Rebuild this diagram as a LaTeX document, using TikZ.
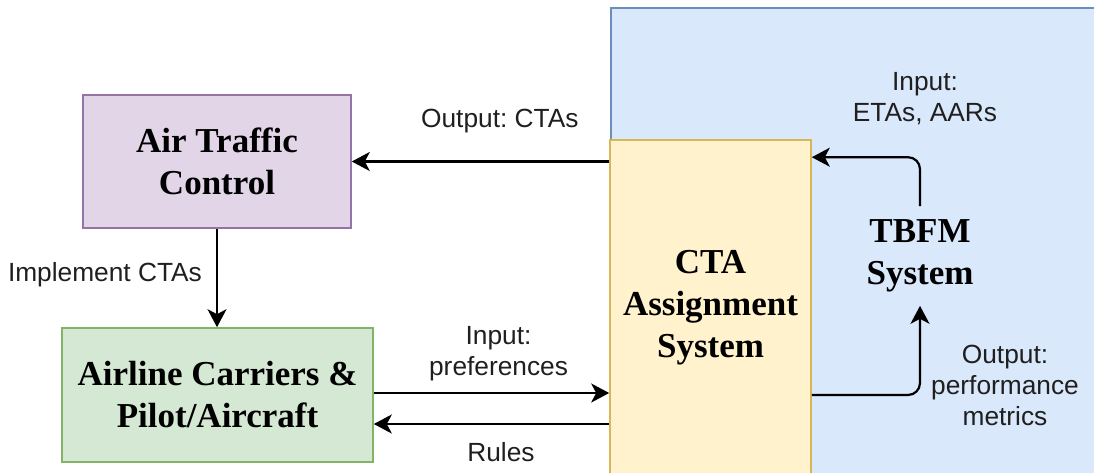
\documentclass[tikz,border=0pt]{standalone}
\usepackage{fontspec}
\setmainfont{Liberation Serif}
\setsansfont{Liberation Sans}
\usetikzlibrary{arrows.meta, positioning}

\definecolor{tbfmfill}{HTML}{DAE8FC}
\definecolor{tbfmline}{HTML}{6C8EBF}
\definecolor{ctafill}{HTML}{FFF2CC}
\definecolor{ctaline}{HTML}{D6B656}
\definecolor{atcfill}{HTML}{E1D5E7}
\definecolor{atcline}{HTML}{9673A6}
\definecolor{airfill}{HTML}{D5E8D4}
\definecolor{airline}{HTML}{82B366}

\tikzset{
  box/.style={draw, line width=1.6pt, inner sep=0pt, align=center,
    font=\fontsize{35}{42}\selectfont\bfseries},
  lbl/.style={inner sep=0pt, align=center, text=black!88,
    font=\sffamily\fontsize{26.3}{31}\selectfont\frenchspacing},
  conn/.style={line width=2.2pt, -{Stealth[length=18pt,width=19pt,inset=5pt]}}
}

\begin{document}
\begin{tikzpicture}[x=1pt,y=-1pt]
\useasboundingbox (0,0) rectangle (1094,472);
\clip (0,0) rectangle (1094,472);
% TBFM area in the background
\node[draw=tbfmline, fill=tbfmfill, line width=1.6pt, anchor=north west,
  minimum width=500pt, minimum height=480pt] (tbfmarea) at (610,7) {};
% Boxes
\node[box, fill=ctafill, draw=ctaline, minimum width=201pt, minimum height=336pt]
  (cta) at (710.5,308) {CTA\\Assignment\\System};
\node[box, fill=atcfill, draw=atcline, minimum width=268pt, minimum height=133pt]
  (atc) at (217,161.5) {Air Traffic\\Control};
\node[box, fill=airfill, draw=airline, minimum width=311pt, minimum height=134pt]
  (air) at (217.5,395) {Airline Carriers \&\\Pilot/Aircraft};
\node[box, draw=none, minimum height=90pt] (tbfm) at (920,256) {TBFM\\System};

% Connector end points
\coordinate (pref) at ([yshift=2pt]air.east);
\coordinate (rule) at ([yshift=-29pt]air.east);
\coordinate (ctain) at ([yshift=-18pt]cta.north east);
\coordinate (ctaout) at ([yshift=-87pt]cta.east);

% CTA system to the others
\draw[conn] (cta.west |- atc.east) -- node[lbl, pos=0.425, yshift=40pt] {Output: CTAs} (atc.east);
\draw[conn] (atc.south) -- node[lbl, left=14pt, pos=0.47] {Implement CTAs} (atc.south |- air.north);
\draw[conn] (pref) -- node[lbl, pos=0.53, yshift=39pt] {Input:\\preferences} (pref -| cta.west);
\draw[conn] (rule -| cta.west) -- node[lbl, pos=0.46, yshift=-28pt] {Rules} (rule);

% Loop with the TBFM system
\draw[conn, rounded corners=12pt] ([yshift=4pt]tbfm.north) |- node[lbl, pos=0.5, xshift=5pt, yshift=59pt] {Input:\\ETAs, AARs} (ctain);
\draw[conn, rounded corners=12pt] (ctaout) -| node[lbl, pos=0.5, xshift=85pt, yshift=9.5pt] {Output:\\performance\\metrics} ([yshift=-4pt]tbfm.south);
\end{tikzpicture}
\end{document}
